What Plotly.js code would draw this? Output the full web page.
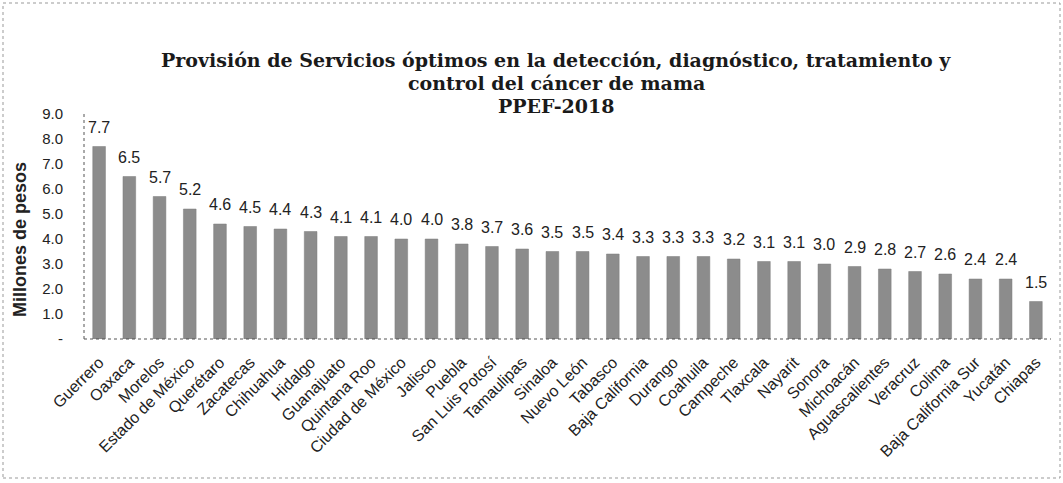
<!DOCTYPE html>
<html>
<head>
<meta charset="utf-8">
<script src="https://cdn.plot.ly/plotly-3.0.1.min.js"></script>
<style>html,body{margin:0;padding:0;background:#fff;}</style>
</head>
<body>
<div id="chart" style="width:1063px;height:483px;"></div>
<script>
const estados = ["Guerrero","Oaxaca","Morelos","Estado de México","Querétaro","Zacatecas","Chihuahua","Hidalgo","Guanajuato","Quintana Roo","Ciudad de México","Jalisco","Puebla","San Luis Potosí","Tamaulipas","Sinaloa","Nuevo León","Tabasco","Baja California","Durango","Coahuila","Campeche","Tlaxcala","Nayarit","Sonora","Michoacán","Aguascalientes","Veracruz","Colima","Baja California Sur","Yucatán","Chiapas"];
const montos = [7.7,6.5,5.7,5.2,4.6,4.5,4.4,4.3,4.1,4.1,4.0,4.0,3.8,3.7,3.6,3.5,3.5,3.4,3.3,3.3,3.3,3.2,3.1,3.1,3.0,2.9,2.8,2.7,2.6,2.4,2.4,1.5];
const yTickVals = [0,1,2,3,4,5,6,7,8,9];
const yTickText = ["-","1.0","2.0","3.0","4.0","5.0","6.0","7.0","8.0","9.0"];
const tituloLineas = [
  "Provisión de Servicios óptimos en la detección, diagnóstico, tratamiento y",
  "control del cáncer de mama",
  "PPEF-2018"
];
const tituloEje = "Millones de pesos";

const W = 1063, H = 483;
const m = {l:84, r:12, t:114, b:144};
const pw = W - m.l - m.r, ph = H - m.t - m.b;
const px = v => (v - m.l) / pw;
const py = v => (H - m.b - v) / ph;

const trace = {
  type: 'bar', x: estados, y: montos,
  marker: {color: '#8c8c8c', line: {color: '#7c7c7c', width: 0.5}},
  hoverinfo: 'x+y'
};

const annotations = estados.map((e, i) => ({
  x: e, y: montos[i], xref: 'x', yref: 'y',
  text: montos[i].toFixed(1), showarrow: false,
  yanchor: 'bottom', yshift: 9,
  font: {family: 'Liberation Sans, Arial, sans-serif', size: 16, color: '#222'}
}));

const tituloY = [59.5, 82.5, 105.5];
tituloLineas.forEach((t, i) => annotations.push({
  xref: 'paper', yref: 'paper', x: px(556), y: py(tituloY[i]),
  xanchor: 'center', yanchor: 'middle', showarrow: false,
  text: '<b>' + t + '</b>',
  font: {family: 'DejaVu Serif, Liberation Serif, serif', size: 19, color: '#1a1a1a'}
}));

annotations.push({
  xref: 'paper', yref: 'paper', x: px(20), y: py(240),
  xanchor: 'center', yanchor: 'middle', showarrow: false, textangle: -90,
  text: '<b>' + tituloEje + '</b>',
  font: {family: 'Liberation Sans, Arial, sans-serif', size: 18, color: '#222'}
});

const layout = {
  width: W, height: H, margin: m,
  paper_bgcolor: '#fff', plot_bgcolor: '#fff',
  bargap: 0.58,
  showlegend: false,
  xaxis: {
    tickangle: -45, showgrid: false, showline: false, zeroline: false, ticks: '',
    ticklabelstandoff: 10,
    tickfont: {family: 'Liberation Sans, Arial, sans-serif', size: 16, color: '#222'},
    automargin: false
  },
  yaxis: {
    range: [0, 9], tickvals: yTickVals, ticktext: yTickText,
    showgrid: false, zeroline: false, showline: false, ticks: '',
    ticklabelstandoff: 20,
    tickfont: {family: 'Liberation Sans, Arial, sans-serif', size: 15, color: '#222'},
    automargin: false
  },
  annotations: annotations,
  shapes: [
    {type:'line', xref:'paper', yref:'paper', x0:0, x1:0, y0:0, y1:1, line:{color:'#555', width:1, dash:'dot'}},
    {type:'line', xref:'paper', yref:'paper', x0:0, x1:1, y0:0, y1:0, line:{color:'#555', width:1, dash:'dot'}},
    {type:'rect', xref:'paper', yref:'paper', x0:px(3), x1:px(1060), y0:py(478), y1:py(3), line:{color:'#999', width:1, dash:'dot'}}
  ]
};

Plotly.newPlot('chart', [trace], layout, {displayModeBar: false, staticPlot: true});
</script>
</body>
</html>
